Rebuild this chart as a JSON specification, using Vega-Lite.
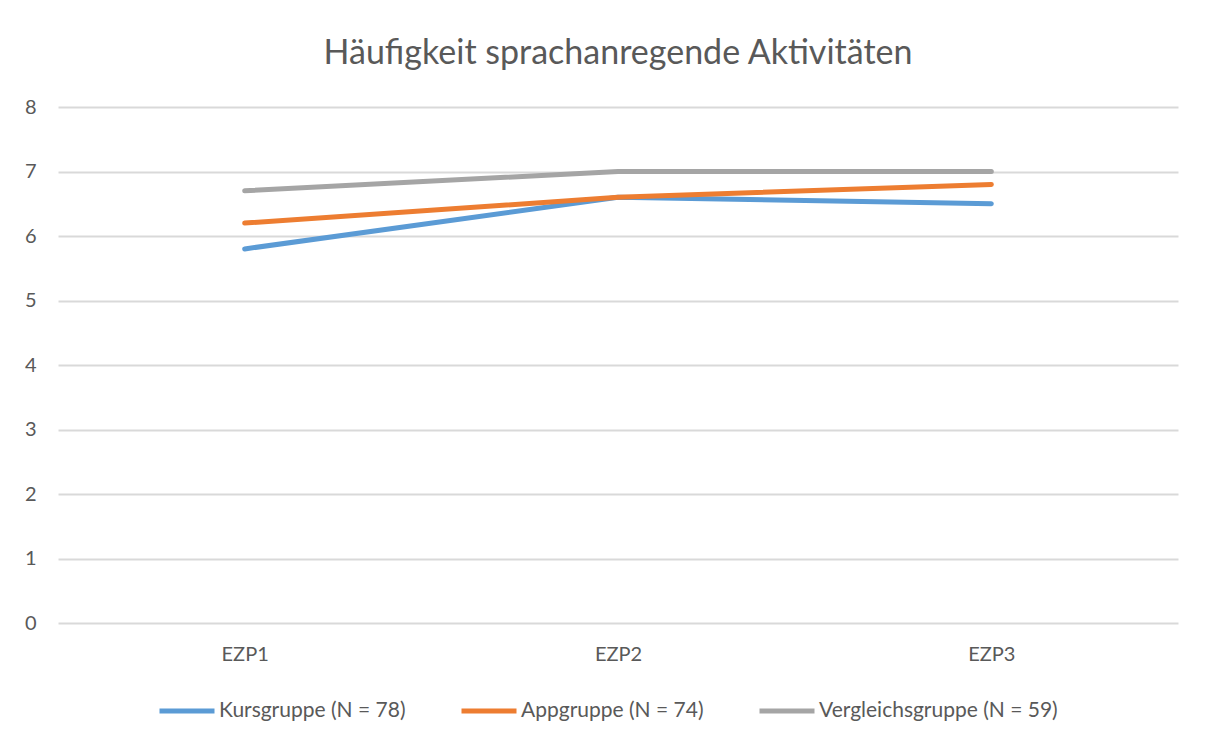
{
  "$schema": "https://vega.github.io/schema/vega-lite/v6.json",
  "autosize": "none",
  "width": 1120,
  "height": 516,
  "padding": {"left": 58, "top": 107, "right": 28, "bottom": 119},
  "background": "white",
  "title": {
    "text": "Häufigkeit sprachanregende Aktivitäten",
    "font": "Lato",
    "fontSize": 34,
    "fontWeight": "normal",
    "color": "#595959",
    "anchor": "middle",
    "offset": 26
  },
  "config": {
    "view": {"stroke": null},
    "font": "Lato"
  },
  "data": {
    "values": [
      {"zeit": "EZP1", "gruppe": "Kursgruppe (N = 78)", "wert": 5.8},
      {"zeit": "EZP2", "gruppe": "Kursgruppe (N = 78)", "wert": 6.6},
      {"zeit": "EZP3", "gruppe": "Kursgruppe (N = 78)", "wert": 6.5},
      {"zeit": "EZP1", "gruppe": "Appgruppe (N = 74)", "wert": 6.2},
      {"zeit": "EZP2", "gruppe": "Appgruppe (N = 74)", "wert": 6.6},
      {"zeit": "EZP3", "gruppe": "Appgruppe (N = 74)", "wert": 6.8},
      {"zeit": "EZP1", "gruppe": "Vergleichsgruppe (N = 59)", "wert": 6.7},
      {"zeit": "EZP2", "gruppe": "Vergleichsgruppe (N = 59)", "wert": 7.0},
      {"zeit": "EZP3", "gruppe": "Vergleichsgruppe (N = 59)", "wert": 7.0}
    ]
  },
  "mark": {"type": "line", "strokeWidth": 5, "strokeCap": "round", "strokeJoin": "round"},
  "encoding": {
    "x": {
      "field": "zeit",
      "type": "ordinal",
      "scale": {"type": "point", "padding": 0.5},
      "axis": {
        "title": null,
        "labelAngle": 0,
        "labelFont": "Lato",
        "labelFontSize": 20,
        "labelColor": "#595959",
        "labelPadding": 21,
        "ticks": false,
        "domain": false,
        "grid": false
      }
    },
    "y": {
      "field": "wert",
      "type": "quantitative",
      "scale": {"domain": [0, 8], "nice": false},
      "axis": {
        "title": null,
        "values": [0, 1, 2, 3, 4, 5, 6, 7, 8],
        "labelFont": "Lato",
        "labelFontSize": 20,
        "labelColor": "#595959",
        "labelPadding": 22,
        "ticks": false,
        "domain": false,
        "grid": true,
        "gridColor": "#d9d9d9",
        "gridWidth": 2
      }
    },
    "color": {
      "field": "gruppe",
      "type": "nominal",
      "scale": {
        "domain": ["Kursgruppe (N = 78)", "Appgruppe (N = 74)", "Vergleichsgruppe (N = 59)"],
        "range": ["#5B9BD5", "#ED7D31", "#A5A5A5"]
      },
      "legend": {
        "title": null,
        "orient": "none",
        "legendX": 99,
        "legendY": 574,
        "direction": "horizontal",
        "symbolType": "stroke",
        "symbolSize": 3025,
        "symbolStrokeWidth": 5,
        "labelFont": "Lato",
        "labelFontSize": 21,
        "labelColor": "#595959",
        "labelOffset": 2,
        "columnPadding": 45,
        "labelLimit": 400
      }
    }
  }
}
